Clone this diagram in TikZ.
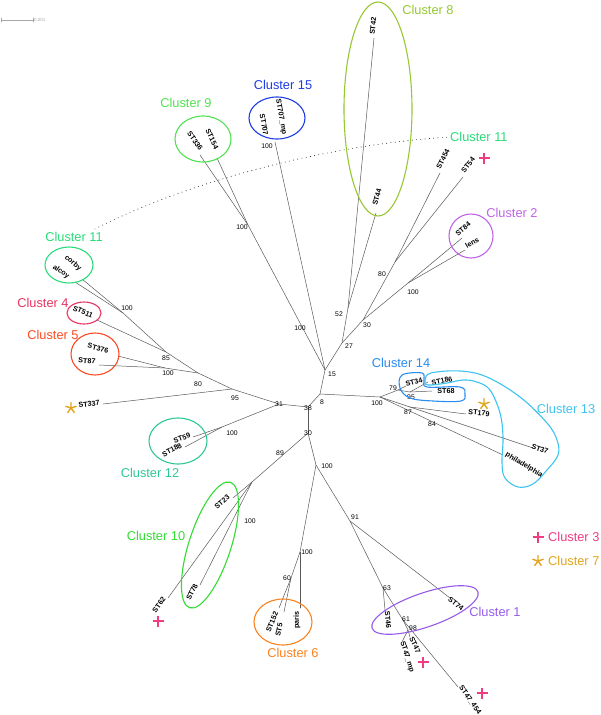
\documentclass[tikz,border=0pt]{standalone}
\usepackage{fontspec}
\setsansfont{Liberation Sans}
\definecolor{cl1}{RGB}{150,90,235}
\definecolor{cl2}{RGB}{190,100,230}
\definecolor{cl3}{RGB}{240,60,130}
\definecolor{cl4}{RGB}{232,50,95}
\definecolor{cl5}{RGB}{250,75,35}
\definecolor{cl6}{RGB}{250,130,30}
\definecolor{cl7}{RGB}{225,165,30}
\definecolor{cl8}{RGB}{150,200,50}
\definecolor{cl9}{RGB}{80,225,80}
\definecolor{cl10}{RGB}{50,220,50}
\definecolor{cl11}{RGB}{40,220,120}
\definecolor{cl12}{RGB}{45,200,145}
\definecolor{cl13}{RGB}{60,195,240}
\definecolor{cl14}{RGB}{40,140,240}
\definecolor{cl15}{RGB}{30,60,225}
\begin{document}
\begin{tikzpicture}[x=1pt, y=-1pt, line join=round, line cap=round,
	edge/.style={draw=black!65, line width=0.5pt},
	leaf/.style={font=\sffamily\bfseries\fontsize{7.2}{8}\selectfont, inner sep=0pt},
	boot/.style={font=\sffamily\fontsize{6.8}{8}\selectfont, inner sep=0pt},
	clab/.style={font=\sffamily\fontsize{12.8}{14}\selectfont, inner sep=0pt},
	ring/.style={line width=1.1pt},
	plusmk/.pic={\draw[line width=1.6pt, line cap=butt] (-5.5,0) -- (5.5,0) (0,-5.5) -- (0,5.5);},
	starmk/.pic={\draw[line width=1.4pt] \foreach \a in {-90,-18,54,126,198} {(0,0) -- (\a:5.5)};}]
	\useasboundingbox (0,0) rectangle (600,715);
	% scale bar
	\draw[black!35, line width=0.5pt] (1,18) -- (1,22) (1,20) -- (33,20) (33,18) -- (33,22);
	\node[anchor=west, black!35, font=\sffamily\fontsize{4.5}{5}\selectfont, inner sep=1pt] (sb) at (33,20) {0.001};
	% inner nodes
	\foreach \n/\x/\y in {n38/308/407, n8/320/394, n15/325/370, n27/342/343, n52/348/308,
		n30u/363/320, n80u/395/262, nC2/408/283, nC9/248/225, nr/380/397, n79/398/390,
		n95r/410/392, n87/410/407, n31/279/404, n95l/232/389, n80l/198/373, n85/166/352,
		nC11/123/313, nC5/165/368, nC12/222/427, n30d/308/433, n89/252/482, n100d/316/465,
		n91/350/521, n63/383/588, n61/403/620, n98/408/630, nC6/300/552, n60/291/578}
		\coordinate (\n) at (\x,\y);
	% tips
	\foreach \n/\x/\y in {tST42/374/38, tST44/376/213, tST707/275/142, tST336/200/155,
		tST154/217/158, tST454/440/173, tST54/463/177, tST84/462/238, tlens/465/250,
		tcorby/82/279, talcoy/75/282, tST511/97/320, tST376/118/356, tST87/99/365,
		tST337/103/404, tST59/193/437, tST188/185/447, tST23/233/498, tST62/168/598,
		tST78/200/585, tST152/279/608, tST5/284/612, tparis/300/608, tST74/450/598,
		tST46/385/610, tST47/410/637, tST47mp/402/642, tST47b/458/687, tST34/406/386,
		tST186/428/382, tST68/432/391, tST179/466/414, tST37/533/448, tphil/503/455}
		\coordinate (\n) at (\x,\y);
	% branches
	\foreach \a/\b in {n38/n8, n8/n15, n8/nr, n15/n27, n15/nC9, n15/tST707, n27/n52, n27/n30u,
		n52/tST42, n52/tST44, n30u/n80u, n30u/nC2, n80u/tST454, n80u/tST54, nC2/tST84, nC2/tlens,
		nC9/tST336, nC9/tST154, nr/n79, n79/tST34, n79/n95r, n95r/tST186, n95r/tST68, nr/n87,
		n87/tST179, n87/tST37, nr/tphil, n38/n31, n31/n95l, n31/nC12, n95l/tST337, n95l/n80l,
		n80l/n85, n80l/nC5, n85/tST511, n85/nC11, nC11/tcorby, nC11/talcoy, nC5/tST376, nC5/tST87,
		nC12/tST59, nC12/tST188, n38/n30d, n30d/n89, n89/tST23, n89/tST62, n89/tST78, n30d/n100d,
		n100d/nC6, n100d/n91, nC6/tparis, nC6/n60, n60/tST152, n60/tST5, n91/tST74, n91/n63,
		n63/tST46, n63/n61, n61/tST47b, n61/n98, n98/tST47, n98/tST47mp}
		\draw[edge] (\a) -- (\b);
	% leaf names
	\foreach \t/\x/\y/\r [count=\i] in {ST42/373/26/84, ST44/377/197/75, ST707/264/125/-80,
		ST707\_mp/281/117/-80, ST336/195/141/-55, ST154/212/139/-65, ST454/443/159/63,
		ST54/468/165/51, ST84/463/229/40, lens/472/243/30, corby/73/263/-40, alcoy/61/272/-35,
		ST511/83/312/-24, ST376/98/348/-14, ST87/87/361/-5, ST337/89/404/7, ST59/182/438/19,
		ST188/172/450/28, ST23/222/502/40, ST62/159/605/54, ST78/192/592/63, ST152/272/622/68,
		ST5/279/630/78, paris/297/620/90, ST74/456/604/-38, ST46/388/620/-85, ST47/415/645/-65,
		ST47\_mp/407/657/-72, ST47\_454/470/700/-55, ST34/414/382/15, ST186/442/381/12,
		ST68/446/391/0, ST179/479/413/-5, ST37/540/449/-20, philadelphia/524/465/-31}
		\node[leaf, rotate=\r] (l\i) at (\x,\y) {\t};
	% bootstrap values
	\foreach \v/\x/\y [count=\i] in {100/267/146, 100/242/227, 100/300/328, 52/339/314, 27/349/346,
		15/332/374, 30/367/325, 80/382/274, 100/413/292, 8/322/402, 38/308/408, 100/377/403,
		79/393/388, 95/411/397, 87/408/412, 84/432/424, 31/279/404, 95/235/398, 80/198/384,
		100/168/373, 85/166/358, 100/127/308, 100/232/433, 30/308/433, 89/280/453, 100/250/521,
		100/327/466, 91/355/517, 100/307/552, 60/287/578, 63/387/588, 61/406/619, 98/413/628}
		\node[boot] (b\i) at (\x,\y) {\v};
	% clusters
	\draw[ring, cl8] (378,109) ellipse [x radius=34, y radius=107];
	\draw[ring, cl15] (277,118) ellipse [x radius=28, y radius=21];
	\draw[ring, cl9] (203,139) ellipse [x radius=28, y radius=23];
	\draw[ring, cl2] (471,236) ellipse [x radius=22, y radius=22];
	\draw[ring, cl11] (69,265) ellipse [x radius=24, y radius=18];
	\draw[ring, cl4] (84,313) ellipse [x radius=17, y radius=11];
	\draw[ring, cl5] (95,354) ellipse [x radius=24, y radius=21];
	\draw[ring, cl12] (178,441) ellipse [x radius=29, y radius=23];
	\draw[ring, cl10, rotate around={72:(210,545)}] (210,545) ellipse [x radius=66, y radius=21];
	\draw[ring, cl6] (283,622) ellipse [x radius=29, y radius=23];
	\draw[ring, cl1, rotate around={19:(425,610)}] (425,610) ellipse [x radius=56, y radius=17];
	\draw[ring, cl14] plot[smooth cycle, tension=0.6] coordinates {(402,375) (422,373) (424,380)
		(427,387) (460,387) (465,394) (461,401) (433,401) (410,398) (400,388)};
	\draw[ring, cl13] plot[smooth cycle, tension=0.6] coordinates {(425,380) (431,373) (460,371)
		(487,377) (520,397) (547,423) (557,440) (558,455) (547,470) (533,484) (518,487) (505,478)
		(502,463) (503,437) (500,413) (490,390) (477,382) (463,380) (447,383) (428,385)};
	\node[clab, cl8] (c8) at (428,10) {Cluster 8};
	\node[clab, cl15] (c15) at (283,85) {Cluster 15};
	\node[clab, cl9] (c9) at (186,103) {Cluster 9};
	\node[clab, cl11, anchor=west] (c11b) at (450,137) {Cluster 11};
	\node[clab, cl2] (c2) at (512,213) {Cluster 2};
	\node[clab, cl11] (c11) at (74,237) {Cluster 11};
	\node[clab, cl4] (c4) at (43,303) {Cluster 4};
	\node[clab, cl5] (c5) at (53,335) {Cluster 5};
	\node[clab, cl14] (c14) at (401,363) {Cluster 14};
	\node[clab, cl13] (c13) at (566,409) {Cluster 13};
	\node[clab, cl12] (c12) at (150,473) {Cluster 12};
	\node[clab, cl10] (c10) at (156,536) {Cluster 10};
	\node[clab, cl1] (c1) at (495,612) {Cluster 1};
	\node[clab, cl6] (c6) at (293,653) {Cluster 6};
	\node[clab, cl3, anchor=west] (c3) at (548,537) {Cluster 3};
	\node[clab, cl7, anchor=west] (c7) at (548,561) {Cluster 7};
	% link between the two parts of cluster 11
	\coordinate (d0) at (95,229);
	\draw[line width=0.9pt, dash pattern=on 0pt off 4.3pt] (d0) .. controls (180,185) and (320,145) .. (c11b.west);
	% markers
	\pic[cl3] at (538,537) {plusmk};
	\pic[cl7] at (538,561) {starmk};
	\pic[cl3] at (484,158) {plusmk};
	\pic[cl3] at (158,621) {plusmk};
	\pic[cl3] at (423,662) {plusmk};
	\pic[cl3] at (482,693) {plusmk};
	\pic[cl7] at (71,408) {starmk};
	\pic[cl7] at (484,404) {starmk};
\end{tikzpicture}
\end{document}
